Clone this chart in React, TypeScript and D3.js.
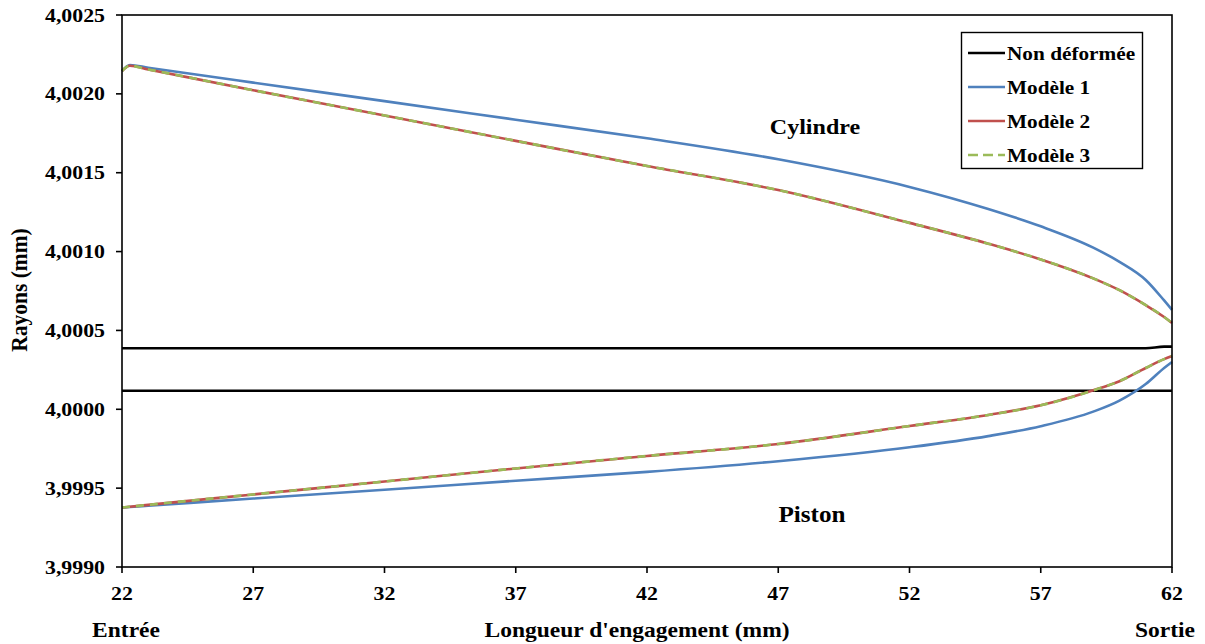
import { FC, useEffect, useRef } from 'react';
import * as d3 from 'd3';

// positions le long de l'engagement (mm)
const positions = [22, 22.3, 23, 27, 32, 37, 42, 47, 52, 55, 57, 59, 60, 61, 61.7, 62];

// rayons (mm)
const cylNominal = [4.000387, 4.000387, 4.000387, 4.000387, 4.000387, 4.000387, 4.000387, 4.000387, 4.000387, 4.000387, 4.000387, 4.000387, 4.000387, 4.000387, 4.000397, 4.000397];
const pisNominal = [4.000118, 4.000118, 4.000118, 4.000118, 4.000118, 4.000118, 4.000118, 4.000118, 4.000118, 4.000118, 4.000118, 4.000118, 4.000118, 4.000118, 4.000118, 4.000118];

const cylModel1 = [4.002145, 4.002183, 4.002166, 4.002071, 4.001954, 4.001836, 4.001718, 4.001585, 4.00141, 4.00127, 4.00116, 4.001025, 4.000935, 4.00082, 4.00069, 4.00063];
const cylModel2 = [4.002145, 4.002178, 4.002155, 4.002023, 4.001863, 4.001702, 4.001543, 4.00139, 4.001182, 4.00105, 4.00095, 4.00083, 4.000755, 4.00066, 4.000585, 4.000547];
const cylModel3 = [4.002145, 4.002178, 4.002155, 4.002023, 4.001863, 4.001702, 4.001543, 4.00139, 4.001182, 4.00105, 4.00095, 4.00083, 4.000755, 4.00066, 4.000585, 4.000547];

const pisModel1 = [3.999377, 3.99938, 3.999388, 3.999434, 3.99949, 3.999547, 3.999603, 3.999671, 3.999759, 3.99983, 3.999893, 3.999985, 4.000055, 4.00016, 4.000262, 4.0003];
const pisModel2 = [3.999377, 3.999382, 3.999394, 3.99946, 3.999542, 3.999625, 3.999704, 3.99978, 3.999894, 3.999964, 4.000025, 4.00012, 4.000178, 4.000262, 4.000318, 4.000338];
const pisModel3 = [3.999377, 3.999382, 3.999394, 3.99946, 3.999542, 3.999625, 3.999704, 3.99978, 3.999894, 3.999964, 4.000025, 4.00012, 4.000178, 4.000262, 4.000318, 4.000338];

const xTicks = [22, 27, 32, 37, 42, 47, 52, 57, 62];
const yTicks = [3.999, 3.9995, 4.0, 4.0005, 4.001, 4.0015, 4.002, 4.0025];

const legendNames = ['Non déformée', 'Modèle 1', 'Modèle 2', 'Modèle 3'];
const colors = ['#000000', '#4F81BD', '#C0504D', '#9BBB59'];

const FONT = '"Liberation Serif", "Times New Roman", serif';
const SX = 1.12; // l'image d'origine est étirée horizontalement

const Chart: FC = () => {
  const ref = useRef<SVGSVGElement | null>(null);

  useEffect(() => {
    if (!ref.current) return;
    const svg = d3.select(ref.current);
    svg.selectAll('*').remove();

    const left = 122, right = 1172, top = 15, bottom = 567;
    const x = d3.scaleLinear().domain([22, 62]).range([left, right]);
    const y = d3.scaleLinear().domain([3.999, 4.0025]).range([bottom, top]);

    const text = (
      g: d3.Selection<any, unknown, null, undefined>,
      str: string,
      tx: number,
      ty: number,
      size: number,
      anchor: string,
      rotate = 0
    ) =>
      g
        .append('text')
        .attr('transform', `translate(${tx},${ty}) scale(${SX},1)${rotate ? ` rotate(${rotate})` : ''}`)
        .attr('text-anchor', anchor)
        .attr('font-family', FONT)
        .attr('font-weight', 'bold')
        .attr('font-size', size)
        .attr('fill', '#000')
        .text(str);

    const root = svg.append('g');

    // séries
    const line = (vals: number[]) =>
      d3
        .line<number>()
        .x((_d, i) => x(positions[i]))
        .y((d) => y(d))
        .curve(d3.curveMonotoneX)(vals);

    const series: { vals: number[]; color: string; dash?: string }[] = [
      { vals: cylNominal, color: colors[0] },
      { vals: pisNominal, color: colors[0] },
      { vals: cylModel1, color: colors[1] },
      { vals: pisModel1, color: colors[1] },
      { vals: cylModel2, color: colors[2] },
      { vals: pisModel2, color: colors[2] },
      { vals: cylModel3, color: colors[3], dash: '8,6' },
      { vals: pisModel3, color: colors[3], dash: '8,6' },
    ];
    series.forEach((s) => {
      root
        .append('path')
        .attr('d', line(s.vals))
        .attr('fill', 'none')
        .attr('stroke', s.color)
        .attr('stroke-width', 2.6)
        .attr('stroke-dasharray', s.dash ?? null);
    });

    // cadre
    root
      .append('rect')
      .attr('x', left)
      .attr('y', top)
      .attr('width', right - left)
      .attr('height', bottom - top)
      .attr('fill', 'none')
      .attr('stroke', '#000')
      .attr('stroke-width', 1.6);

    // axe y
    const fmt = (v: number) => d3.format('.4f')(v).replace('.', ',');
    yTicks.forEach((v) => {
      root
        .append('line')
        .attr('x1', left - 6)
        .attr('x2', left)
        .attr('y1', y(v))
        .attr('y2', y(v))
        .attr('stroke', '#000')
        .attr('stroke-width', 1.6);
      text(root, fmt(v), 105, y(v) + 6.5, 19.5, 'end');
    });

    // axe x
    xTicks.forEach((v) => {
      root
        .append('line')
        .attr('x1', x(v))
        .attr('x2', x(v))
        .attr('y1', bottom)
        .attr('y2', bottom + 6)
        .attr('stroke', '#000')
        .attr('stroke-width', 1.6);
      text(root, String(v), x(v), 600, 19.5, 'middle');
    });

    text(root, 'Entrée', 126, 637, 21, 'middle');
    text(root, "Longueur d'engagement (mm)", 637, 637, 21, 'middle');
    text(root, 'Sortie', 1165, 637, 21, 'middle');
    text(root, 'Rayons (mm)', 27, 290, 21.5, 'middle', -90);

    text(root, 'Cylindre', 815, 134, 21.5, 'middle');
    text(root, 'Piston', 812, 522, 22.5, 'middle');

    // légende
    const lg = root.append('g');
    lg.append('rect')
      .attr('x', 961.5)
      .attr('y', 32.5)
      .attr('width', 181)
      .attr('height', 136)
      .attr('fill', '#fff')
      .attr('stroke', '#000')
      .attr('stroke-width', 1.4);
    legendNames.forEach((name, i) => {
      const cy = 53 + i * 34;
      lg.append('line')
        .attr('x1', 968)
        .attr('x2', 1005)
        .attr('y1', cy)
        .attr('y2', cy)
        .attr('stroke', colors[i])
        .attr('stroke-width', 2.6)
        .attr('stroke-dasharray', i === 3 ? '10,5' : null);
      text(lg, name, 1007, cy + 6.5, 19, 'start');
    });
  }, []);

  return (
    <svg
      ref={ref}
      width={1205}
      height={644}
      style={{ position: 'absolute', left: 0, top: 0, background: '#fff' }}
    />
  );
};

export default function App() {
  return <Chart />;
}
